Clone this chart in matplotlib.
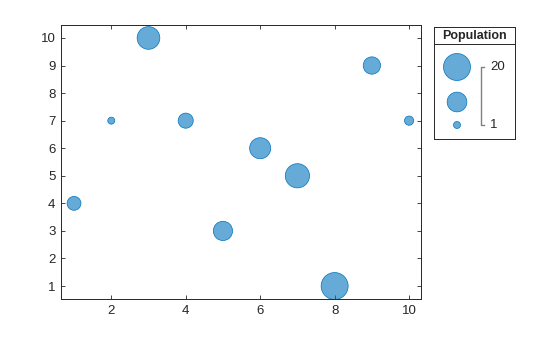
import matplotlib
matplotlib.use('Agg')
import numpy as np
import matplotlib.pyplot as plt

plt.rcParams['font.family'] = ['Liberation Sans', 'DejaVu Sans']

# bubble data
x_vals = [1, 2, 3, 4, 5, 6, 7, 8, 9, 10]
y_vals = [4, 7, 10, 7, 3, 6, 5, 1, 9, 7]
population = [5, 1, 14, 6, 10, 12, 16, 20, 8, 2]
legend_vals = [20, 10.5, 1]
legend_labels = ['20', '1']

face = (0, 0.447, 0.741, 0.6)
edge = '#0072BD'
axis_col = '#262626'

# area scales linearly with value, diameter 7px .. 27px
dmin, dmax = 7.0, 27.0
vmin, vmax = min(population), max(population)

def bubble_size(v):
    v = np.asarray(v, dtype=float)
    d2 = dmin**2 + (v - vmin) / (vmax - vmin) * (dmax**2 - dmin**2)
    return d2 * 0.72**2   # px^2 -> pt^2 at 100 dpi

fig = plt.figure(figsize=(5.6, 3.37), dpi=100)
ax = fig.add_axes([61/560, 38/337, 360/560, 274/337])

ax.scatter(x_vals, y_vals, s=bubble_size(population), facecolor=face,
           edgecolor=edge, linewidth=0.5, zorder=3)
ax.set_xlim(0.65, 10.32)
ax.set_ylim(0.53, 10.47)
ax.set_xticks([2, 4, 6, 8, 10])
ax.set_yticks(range(1, 11))
ax.tick_params(direction='in', length=3, width=0.6, top=True, right=True,
               labelsize=9.5, colors=axis_col, pad=4)
for s in ax.spines.values():
    s.set_color(axis_col)
    s.set_linewidth(0.7)

# bubble legend drawn in its own axes (pixel coords)
lg = fig.add_axes([434/560, (337-139)/337, 81/560, 112/337])
lg.set_xlim(0, 81)
lg.set_ylim(112, 0)
lg.set_xticks([])
lg.set_yticks([])
for s in lg.spines.values():
    s.set_color(axis_col)
    s.set_linewidth(0.7)
lg.axhline(17, color=axis_col, lw=0.7)
lg.text(40.5, 9, 'Population', ha='center', va='center', fontsize=9,
        fontweight='bold', color=axis_col)

ly = [40, 75, 98]
lg.scatter([23, 23, 23], ly, s=bubble_size(legend_vals), facecolor=face,
           edgecolor=edge, linewidth=0.5, clip_on=False)
lg.plot([50, 47, 47, 50], [ly[0], ly[0], ly[2], ly[2]], color='#808080', lw=1)
lg.text(56, ly[0], legend_labels[0], ha='left', va='center', fontsize=9.5, color=axis_col)
lg.text(56, ly[2], legend_labels[1], ha='left', va='center', fontsize=9.5, color=axis_col)

fig.savefig('out.png', dpi=100)
